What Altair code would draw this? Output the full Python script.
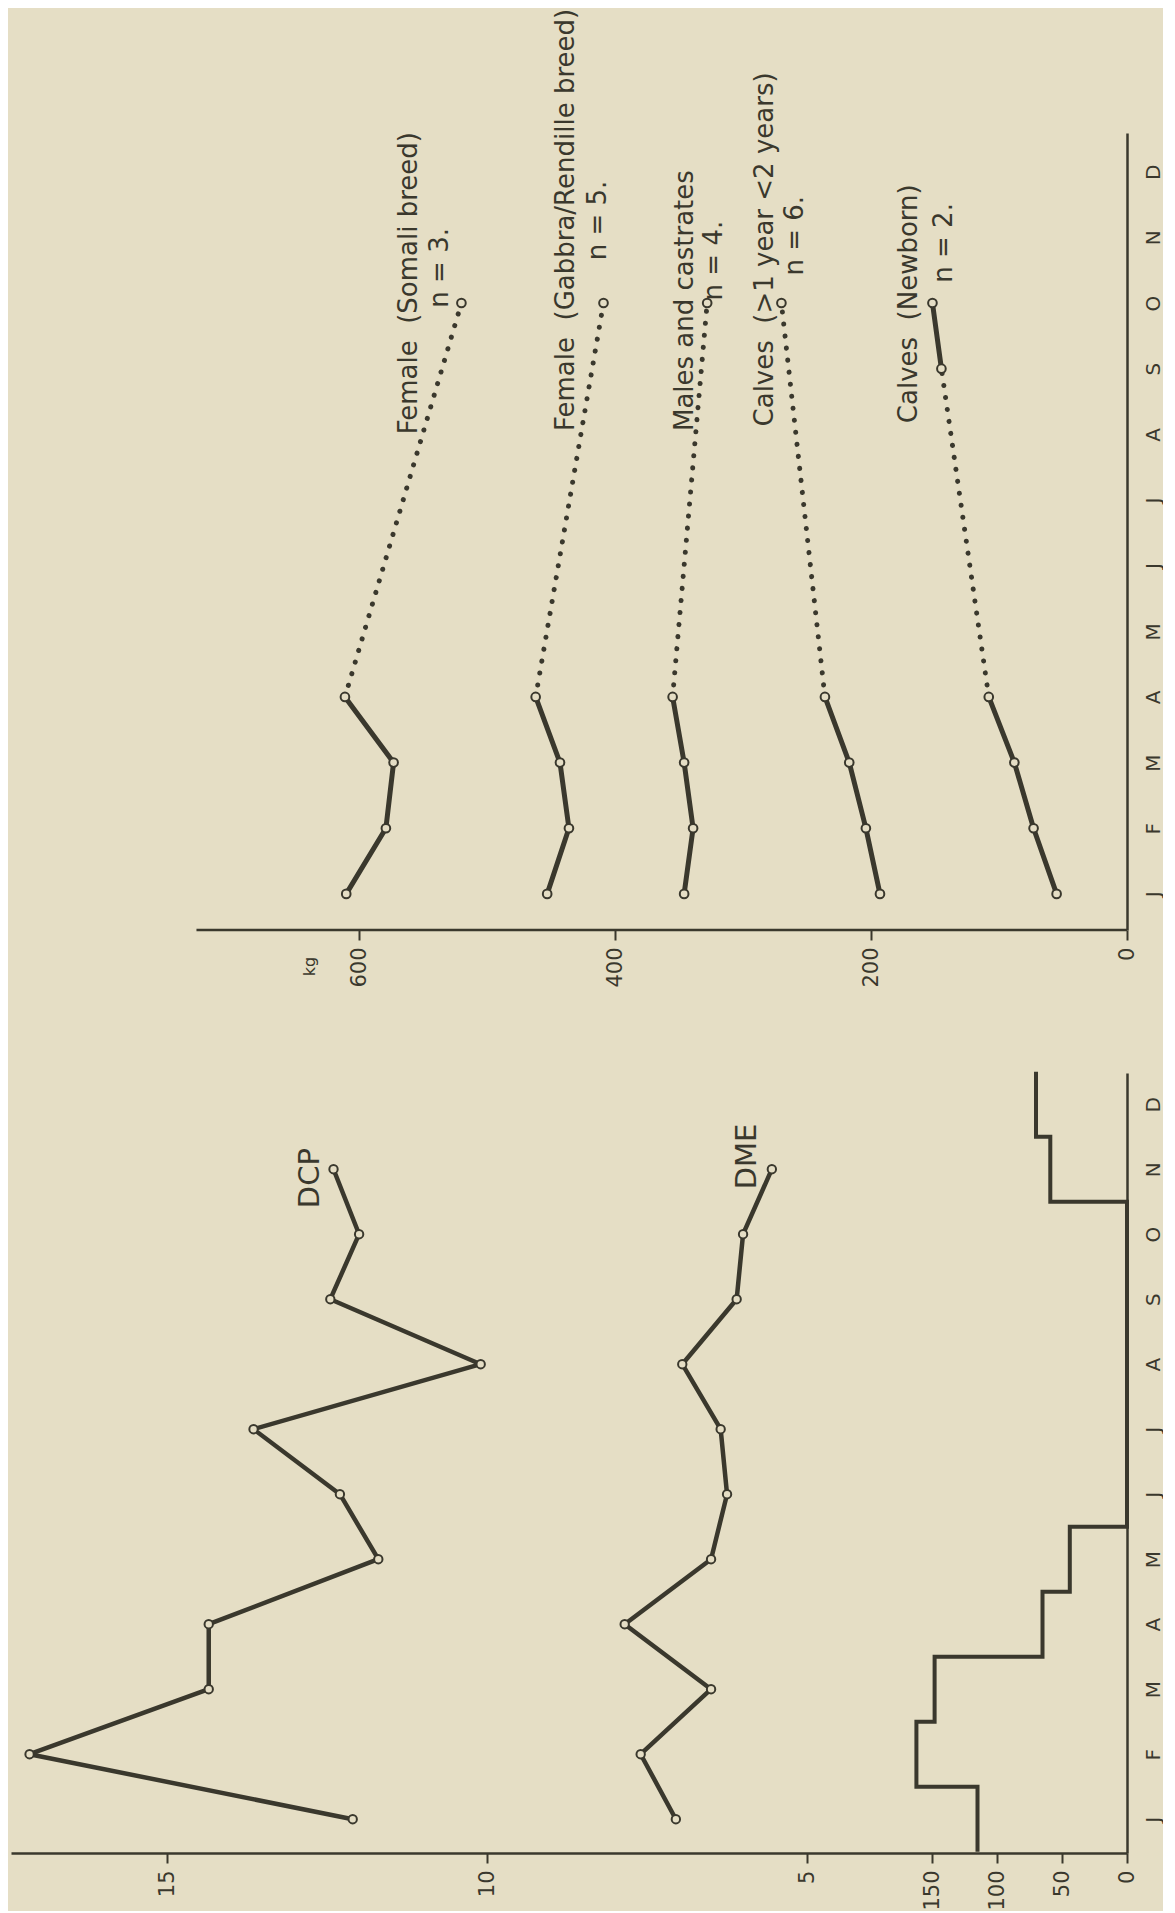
import json
import altair as alt
import pandas as pd

# ---------------- data ----------------
MONTHS = ["J", "F", "M", "A", "M", "J", "J", "A", "S", "O", "N", "D"]

# Upper panel: live weight (kg)
WEIGHT_MONTHS = [
    [0, 1, 2, 3, 9],
    [0, 1, 2, 3, 9],
    [0, 1, 2, 3, 9],
    [0, 1, 2, 3, 9],
    [0, 1, 2, 3, 8, 9],
]
WEIGHT_KG = [
    [610, 579, 573, 611, 520],
    [453, 436, 443, 462, 409],
    [346, 339, 346, 355, 328],
    [193, 204, 217, 236, 270],
    [55, 73, 88, 108, 145, 152],
]
LABEL_TEXT = [
    "Female\u00a0 (Somali breed)",
    "Female\u00a0 (Gabbra/Rendille breed)",
    "Males and castrates",
    "Calves\u00a0 (>1 year <2 years)",
    "Calves\u00a0 (Newborn)",
]
LABEL_MONTH = [7.0, 7.05, 7.05, 7.12, 7.17]
LABEL_KG = [561, 438, 345, 283, 170]
N_TEXT = ["n = 3.", "n = 5.", "n = 4.", "n = 6.", "n = 2."]
N_MONTH = [8.93, 9.65, 9.04, 9.42, 9.31]
N_KG = [537, 413, 323, 259, 143]
KG_TICKS = [0, 200, 400, 600]
KG_AXIS_END = 727

# Lower panel: DCP / DME of diet and rainfall (mm)
DCP = [12.1, 17.15, 14.35, 14.35, 11.7, 12.3, 13.65, 10.1, 12.45, 12.0, 12.4]
DME = [7.05, 7.6, 6.5, 7.85, 6.5, 6.25, 6.35, 6.95, 6.1, 6.0, 5.55]
RAIN = [115, 162, 148, 65, 44, 0, 0, 0, 0, 0, 59, 70]
CURVE_TEXT = ["DCP", "DME"]
CURVE_MONTH = [9.4, 9.69]
CURVE_VALUE = [12.77, 5.94]
DCP_TICKS = [5, 10, 15]
RAIN_TICKS = [0, 50, 100, 150]

# ---------------- styling ----------------
BG = "#e5dec5"
INK = "#3a382d"
FONT = "DejaVu Sans"
PANEL_W = 1116
UP_H = 797
LO_H = 780
KG_DOMAIN = [0, 871.9]
UP_MONTH_DOMAIN = [-0.55, 11.59]
LO_MONTH_DOMAIN = [-0.52, 11.48]
DCP_DOMAIN = [0, 17.44]
RAIN_DOMAIN = [0, 858.5]

month_label_expr = json.dumps(MONTHS) + "[datum.value]"


def month_axis():
    return alt.Axis(
        orient="right", values=list(range(12)), labelExpr=month_label_expr,
        ticks=False, tickSize=0, domain=True, domainWidth=2.5, domainColor=INK,
        labelAngle=270, labelAlign="center", labelBaseline="top",
        labelPadding=16, labelFontSize=20, labelColor=INK, labelFont=FONT,
        grid=False, title=None, labelOverlap=False,
    )


def value_axis(values, domain, title=None, **kw):
    args = dict(
        values=values, domain=domain, domainWidth=2.5, domainColor=INK,
        ticks=True, tickSize=10, tickWidth=2, tickColor=INK,
        labelAngle=270, labelAlign="right", labelBaseline="middle",
        labelPadding=7, labelFontSize=21, labelColor=INK, labelFont=FONT,
        labelOverlap=False, grid=False, title=title,
    )
    args.update(kw)
    return alt.Axis(**args)


# ---------------- upper panel ----------------
pts, segs = [], []
sid = 0
for s, (ms, ks) in enumerate(zip(WEIGHT_MONTHS, WEIGHT_KG)):
    for m, k in zip(ms, ks):
        pts.append({"series": s, "month": m, "kg": k})
    for i in range(len(ms) - 1):
        style = "solid" if ms[i + 1] - ms[i] == 1 else "dotted"
        if style == "solid" and segs and segs[-1]["style"] == "solid" and segs[-1]["series"] == s and segs[-1]["month"] == ms[i]:
            gid = segs[-1]["seg"]
            segs.append({"seg": gid, "series": s, "style": style, "month": ms[i + 1], "kg": ks[i + 1], "o": i + 1})
        else:
            sid += 1
            segs.append({"seg": sid, "series": s, "style": style, "month": ms[i], "kg": ks[i], "o": i})
            segs.append({"seg": sid, "series": s, "style": style, "month": ms[i + 1], "kg": ks[i + 1], "o": i + 1})
pts_df = pd.DataFrame(pts)
segs_df = pd.DataFrame(segs)
labels_df = pd.DataFrame({"label": LABEL_TEXT + N_TEXT, "month": LABEL_MONTH + N_MONTH, "kg": LABEL_KG + N_KG})
kg_line_df = pd.DataFrame({"kg": [0], "kg_end": [KG_AXIS_END], "month": [UP_MONTH_DOMAIN[0]]})

X_UP = alt.X("kg:Q", scale=alt.Scale(domain=KG_DOMAIN, reverse=True, nice=False, zero=False),
             axis=value_axis(KG_TICKS, False, title="kg", titleAngle=270, titleX=298, titleY=36,
                             titleAlign="center", titleBaseline="middle", titleFontSize=16,
                             titleFontWeight="normal", titleColor=INK, titleFont=FONT))
Y_UP = alt.Y("month:Q", scale=alt.Scale(domain=UP_MONTH_DOMAIN, nice=False, zero=False), axis=month_axis())

up_solid = alt.Chart(segs_df).transform_filter("datum.style == 'solid'").mark_line(
    color=INK, strokeWidth=5, strokeCap="round", strokeJoin="round"
).encode(x=X_UP, y=Y_UP, detail="seg:N", order="o:Q")
up_dotted = alt.Chart(segs_df).transform_filter("datum.style == 'dotted'").mark_line(
    color=INK, strokeWidth=5, strokeCap="round", strokeDash=[0.1, 12]
).encode(x=X_UP, y=Y_UP, detail="seg:N", order="o:Q")
up_points = alt.Chart(pts_df).mark_point(
    shape="circle", filled=True, size=75, color=BG, stroke=INK, strokeWidth=2, opacity=1
).encode(x=X_UP, y=Y_UP)
up_text = alt.Chart(labels_df).mark_text(
    angle=270, align="left", baseline="middle", fontSize=26, color=INK, font=FONT
).encode(x=X_UP, y=Y_UP, text="label:N")
up_axis_line = alt.Chart(kg_line_df).mark_rule(color=INK, strokeWidth=2.5).encode(
    x=X_UP, x2="kg_end:Q", y=Y_UP)

upper = alt.layer(up_axis_line, up_dotted, up_solid, up_points, up_text).properties(width=PANEL_W, height=UP_H)

# ---------------- lower panel ----------------
curves = []
for name, vals in (("DCP", DCP), ("DME", DME)):
    for m, v in enumerate(vals):
        curves.append({"curve": name, "month": m, "value": v})
curves_df = pd.DataFrame(curves)
curve_lab_df = pd.DataFrame({"label": CURVE_TEXT, "month": CURVE_MONTH, "value": CURVE_VALUE})
rain_rows = []
for m, r in enumerate(RAIN):
    rain_rows.append({"month": m - 0.5, "rain": r, "o": 2 * m})
    rain_rows.append({"month": m + 0.5, "rain": r, "o": 2 * m + 1})
rain_df = pd.DataFrame(rain_rows)

X_DCP = alt.X("value:Q", scale=alt.Scale(domain=DCP_DOMAIN, reverse=True, nice=False, zero=False),
              axis=value_axis(DCP_TICKS, True))
X_RAIN = alt.X("rain:Q", scale=alt.Scale(domain=RAIN_DOMAIN, reverse=True, nice=False, zero=False),
               axis=value_axis(RAIN_TICKS, False, orient="bottom"))
Y_LO = alt.Y("month:Q", scale=alt.Scale(domain=LO_MONTH_DOMAIN, nice=False, zero=False), axis=month_axis())

lo_lines = alt.Chart(curves_df).mark_line(
    color=INK, strokeWidth=4.5, strokeJoin="round", strokeCap="round"
).encode(x=X_DCP, y=Y_LO, detail="curve:N", order="month:Q")
lo_points = alt.Chart(curves_df).mark_point(
    shape="circle", filled=True, size=70, color=BG, stroke=INK, strokeWidth=2, opacity=1
).encode(x=X_DCP, y=Y_LO)
lo_text = alt.Chart(curve_lab_df).mark_text(
    angle=270, align="left", baseline="middle", fontSize=29, color=INK, font=FONT
).encode(x=X_DCP, y=Y_LO, text="label:N")
dcp_group = alt.layer(lo_lines, lo_points, lo_text)

rain_line = alt.Chart(rain_df).mark_line(
    color=INK, strokeWidth=4, strokeJoin="miter"
).encode(x=X_RAIN, y=Y_LO, order="o:Q")

lower = alt.layer(dcp_group, rain_line).resolve_scale(x="independent").properties(width=PANEL_W, height=LO_H)

chart = alt.vconcat(upper, lower, spacing=143, bounds="flush").properties(
    padding={"left": 3, "top": 0, "right": 0, "bottom": 0}
).configure(background=BG, font=FONT).configure_view(stroke=None)

chart.save("out.html", embed_options={"renderer": "svg", "actions": False})
